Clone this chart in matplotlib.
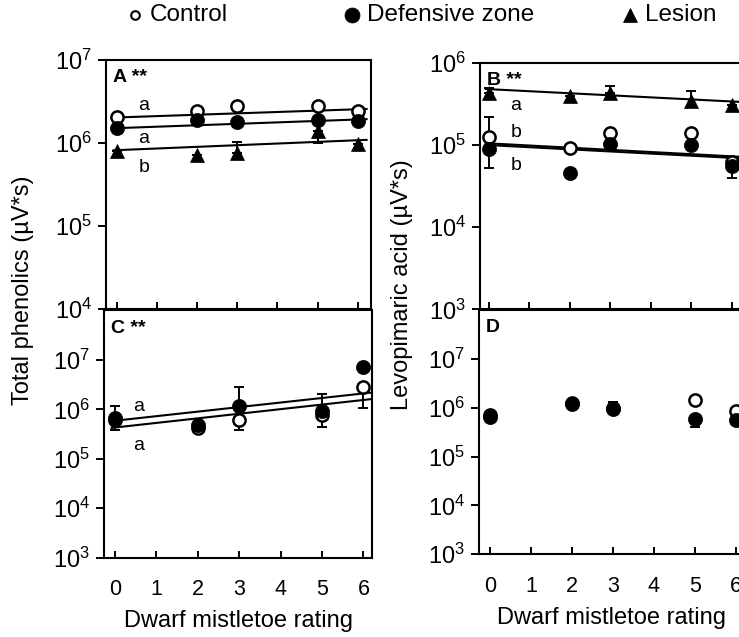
import numpy as np
import matplotlib.pyplot as plt
from matplotlib.lines import Line2D
from matplotlib.ticker import FixedLocator, NullLocator, LogFormatterSciNotation

plt.rcParams['font.family'] = ['Liberation Sans', 'DejaVu Sans']
plt.rcParams['mathtext.default'] = 'regular'

nan = np.nan
rating = [0, 2, 3, 5, 6]

# A: total phenolics (upper left)
phen_top_control = [2.05e6, 2.4e6, 2.8e6, 2.8e6, 2.4e6]
phen_top_defense = [1.5e6, 1.9e6, 1.8e6, 1.9e6, 1.85e6]
phen_top_lesion = [7.9e5, 7.1e5, 7.6e5, 1.4e6, 9.6e5]
phen_top_lesion_lo = [nan, nan, nan, 1.0e6, nan]
phen_top_lesion_hi = [nan, nan, 1.03e6, nan, nan]
phen_top_fit = {'control': (2.03e6, 2.55e6), 'defense': (1.51e6, 1.92e6), 'lesion': (8.2e5, 1.08e6)}
phen_top_letters = ['a', 'a', 'b']
phen_top_letter_y = [2.86e6, 1.14e6, 5.1e5]

# B: levopimaric acid (upper right)
levo_top_control = [1.27e5, 9.1e4, 1.4e5, 1.4e5, 6.2e4]
levo_top_control_hi = [2.2e5, nan, nan, nan, nan]
levo_top_defense = [9.0e4, 4.6e4, 1.03e5, 1.0e5, 5.5e4]
levo_top_defense_lo = [5.3e4, nan, nan, nan, 4.0e4]
levo_top_lesion = [4.3e5, 4.0e5, 4.3e5, 3.4e5, 3.1e5]
levo_top_lesion_lo = [nan, nan, nan, 2.9e5, nan]
levo_top_lesion_hi = [5.0e5, nan, 5.3e5, 4.6e5, nan]
levo_top_fit = {'control': (1.05e5, 7.3e4), 'defense': (1.0e5, 7.0e4), 'lesion': (4.8e5, 3.4e5)}
levo_top_letters = ['a', 'b', 'b']
levo_top_letter_y = [3.0e5, 1.41e5, 5.7e4]

# C: total phenolics (lower left)
phen_bot_control = [6.2e5, 4.2e5, 6.2e5, 7.7e5, 2.8e6]
phen_bot_control_lo = [nan, nan, 3.9e5, 4.4e5, 1.05e6]
phen_bot_defense = [6.6e5, 4.9e5, 1.17e6, 9.1e5, 7.3e6]
phen_bot_defense_lo = [3.9e5, nan, nan, nan, nan]
phen_bot_defense_hi = [1.15e6, nan, 2.8e6, 2.0e6, nan]
phen_bot_fit = {'control': (4.3e5, 1.55e6), 'defense': (5.9e5, 2.1e6)}
phen_bot_letters = ['a', 'a']
phen_bot_letter_y = [1.17e6, 1.9e5]

# D: levopimaric acid (lower right)
levo_bot_control = [7.2e5, 1.25e6, 1.0e6, 1.45e6, 8.7e5]
levo_bot_control_hi = [nan, nan, 1.3e6, nan, nan]
levo_bot_defense = [6.5e5, 1.2e6, 9.5e5, 5.9e5, 5.7e5]
levo_bot_defense_lo = [nan, nan, nan, 4.0e5, nan]

legend_labels = ['Control', 'Defensive zone', 'Lesion']

styles = {
    'control': dict(marker='o', ms=8.8, mfc='white', mec='black', mew=1.8),
    'defense': dict(marker='o', ms=10.2, mfc='black', mec='black', mew=0.5),
    'lesion': dict(marker='^', ms=10.4, mfc='black', mec='black', mew=0.5),
}

W, H = 739, 637
fig = plt.figure(figsize=(W / 100, H / 100), dpi=100)


def px_axes(left, top, right, bottom):
    return fig.add_axes([left / W, 1 - bottom / H, (right - left) / W, (bottom - top) / H])


def style_axes(ax, xlim, ylim, yticks, xlabels):
    ax.set_yscale('log')
    ax.set_xlim(xlim)
    ax.set_ylim(ylim)
    ax.yaxis.set_major_locator(FixedLocator(yticks))
    ax.yaxis.set_minor_locator(NullLocator())
    ax.yaxis.set_major_formatter(LogFormatterSciNotation())
    ax.set_xticks(range(7))
    ax.tick_params(axis='x', direction='in', length=5, width=1.4, labelsize=15.5, pad=15.5,
                   labelbottom=xlabels)
    ax.tick_params(axis='y', direction='out', length=6, width=1.4, labelsize=17, pad=4)
    for sp in ax.spines.values():
        sp.set_linewidth(1.5)


def draw_series(ax, y, kind, lo=None, hi=None):
    y = np.asarray(y)
    lo = y if lo is None else np.where(np.isnan(lo), y, lo)
    hi = y if hi is None else np.where(np.isnan(hi), y, hi)
    if np.any(lo != y) or np.any(hi != y):
        ax.errorbar(rating, y, yerr=[y - lo, hi - y], fmt='none', ecolor='black',
                    elinewidth=1.4, capsize=3.6, capthick=1.4, zorder=2.5)
    ax.plot(rating, y, ls='none', zorder=3, **styles[kind])


def draw_fit(ax, ends):
    xs = np.array([-0.08, 6.22])
    l0, l6 = np.log10(ends[0]), np.log10(ends[1])
    ax.plot(xs, 10 ** (l0 + (l6 - l0) * xs / 6), color='black', lw=1.5, zorder=2)


def panel_tag(ax, text):
    ax.annotate(text, xy=(0, 1), xycoords='axes fraction', xytext=(5.2, -16),
                textcoords='offset points', fontsize=14, fontweight='bold', va='baseline')


def letters(ax, labels, ys, x):
    for lab, yv in zip(labels, ys):
        ax.text(x, yv, lab, fontsize=14, ha='center', va='center')


# panel A
ax_a = px_axes(105.7, 60, 371, 309)
style_axes(ax_a, (-0.274, 6.33), (1e4, 1e7), [1e4, 1e5, 1e6, 1e7], False)
for k in ['control', 'defense', 'lesion']:
    draw_fit(ax_a, phen_top_fit[k])
draw_series(ax_a, phen_top_control, 'control')
draw_series(ax_a, phen_top_defense, 'defense')
draw_series(ax_a, phen_top_lesion, 'lesion', phen_top_lesion_lo, phen_top_lesion_hi)
letters(ax_a, phen_top_letters, phen_top_letter_y, 0.68)
panel_tag(ax_a, 'A **')

# panel B
ax_b = px_axes(480, 63, 745, 309.3)
style_axes(ax_b, (-0.222, 6.33), (1e3, 1e6), [1e3, 1e4, 1e5, 1e6], False)
for k in ['control', 'defense', 'lesion']:
    draw_fit(ax_b, levo_top_fit[k])
draw_series(ax_b, levo_top_control, 'control', None, levo_top_control_hi)
draw_series(ax_b, levo_top_defense, 'defense', levo_top_defense_lo)
draw_series(ax_b, levo_top_lesion, 'lesion', levo_top_lesion_lo, levo_top_lesion_hi)
letters(ax_b, levo_top_letters, levo_top_letter_y, 0.67)
panel_tag(ax_b, 'B **')

# panel C
ax_c = px_axes(104, 310.5, 371.7, 557.7)
style_axes(ax_c, (-0.266, 6.2), (1e3, 1e8), [1e3, 1e4, 1e5, 1e6, 1e7], True)
for k in ['control', 'defense']:
    draw_fit(ax_c, phen_bot_fit[k])
draw_series(ax_c, phen_bot_control, 'control', phen_bot_control_lo)
draw_series(ax_c, phen_bot_defense, 'defense', phen_bot_defense_lo, phen_bot_defense_hi)
letters(ax_c, phen_bot_letters, phen_bot_letter_y, 0.56)
panel_tag(ax_c, 'C **')

# panel D
ax_d = px_axes(479, 310, 744, 554.3)
style_axes(ax_d, (-0.269, 6.2), (1e3, 1e8), [1e3, 1e4, 1e5, 1e6, 1e7], True)
draw_series(ax_d, levo_bot_control, 'control', None, levo_bot_control_hi)
draw_series(ax_d, levo_bot_defense, 'defense', levo_bot_defense_lo)
panel_tag(ax_d, 'D')

# axis titles
fig.text(23 / W, 1 - 290 / H, 'Total phenolics (µV*s)', rotation=90, fontsize=17,
         ha='center', va='center')
fig.text(402 / W, 1 - 285 / H, 'Levopimaric acid (µV*s)', rotation=90, fontsize=17,
         ha='center', va='center')
fig.text(238 / W, 1 - 627 / H, 'Dwarf mistletoe rating', fontsize=17, ha='center', va='baseline')
fig.text(611.5 / W, 1 - 624 / H, 'Dwarf mistletoe rating', fontsize=17, ha='center', va='baseline')

# legend row across the top
legend_kinds = ['control', 'defense', 'lesion']
legend_marker_x = [135, 352, 630]
legend_ms = [6.2, 10.8, 10.0]
for kind, lab, mx, ms in zip(legend_kinds, legend_labels, legend_marker_x, legend_ms):
    st = dict(styles[kind])
    st['ms'] = ms
    if kind == 'control':
        st['mew'] = 1.5
    fig.add_artist(Line2D([mx / W], [1 - 15 / H], transform=fig.transFigure, ls='none', **st))
    fig.text((mx + 15) / W, 1 - 15 / H, lab, fontsize=17.5, va='center', ha='left')

fig.savefig('out.png', dpi=100)
